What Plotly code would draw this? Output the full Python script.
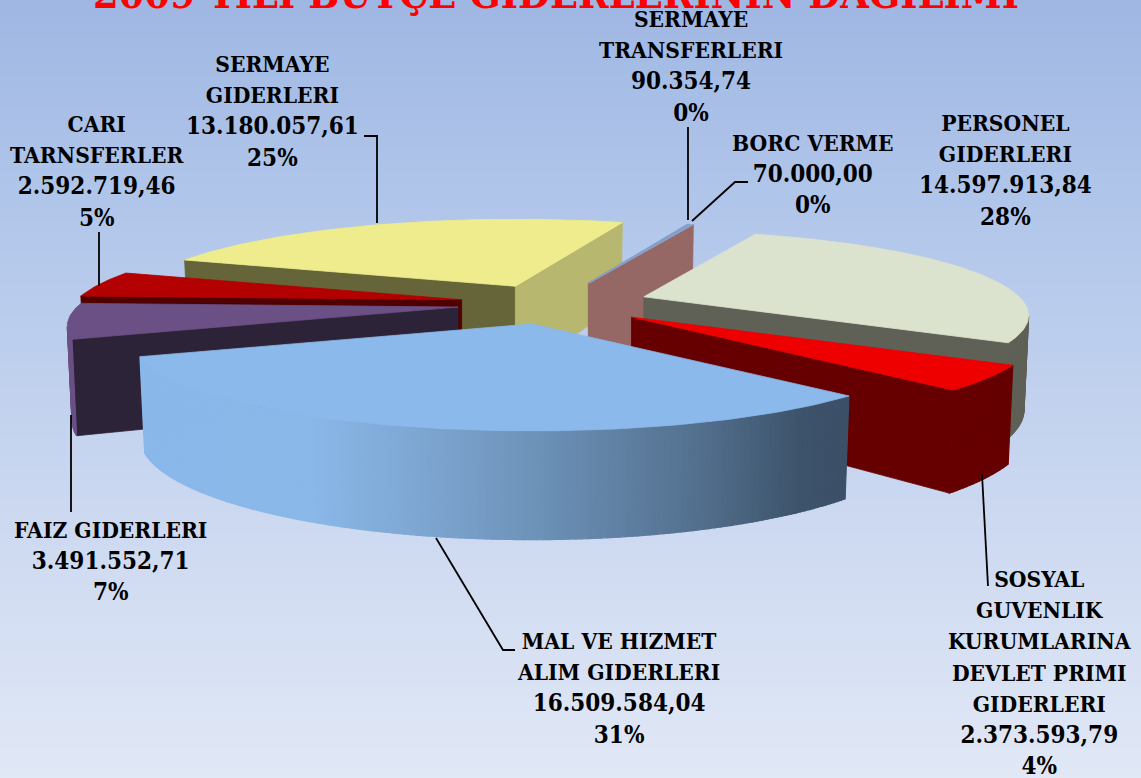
import numpy as np
import plotly.graph_objects as go

# ---- data ----
category_lines = [
    ["PERSONEL", "GIDERLERI"],
    ["SOSYAL", "GUVENLIK", "KURUMLARINA", "DEVLET PRIMI", "GIDERLERI"],
    ["MAL VE HIZMET", "ALIM GIDERLERI"],
    ["FAIZ GIDERLERI"],
    ["CARI", "TARNSFERLER"],
    ["SERMAYE", "GIDERLERI"],
    ["SERMAYE", "TRANSFERLERI"],
    ["BORC VERME"],
]
values = [14597913.84, 2373593.79, 16509584.04, 3491552.71, 2592719.46, 13180057.61, 90354.74, 70000.00]
title_text = "2009 YILI BÜTÇE GİDERLERİNİN DAĞILIMI"

# ---- styles ----
top_colors = ["#dbe2cd", "#ee0000", "#8bb9ec", "#6b5086", "#b30000", "#eeec8c", "#7fa0cc", "#8aa6d0"]
start_wall = ["#5f6056", "#660000", "#3e546c", "#2d2338", "#500000", "#666539", "#956866", "#956866"]
end_wall = ["#5f6056", "#660000", "#8bb9ec", "#2d2338", "#800000", "#b8b76f", "#956866", "#956866"]
outer_wall = ["#5f6056", "#660000", None, "#6b5086", "#800000", "#b8b76f", "#956866", "#956866"]
explode = [0.25, 0.26, 0.25, 0.25, 0.242, 0.232, 0.265, 0.265]
radius_scale = [0.975, 1.02, 1.005, 0.99, 1.0, 0.985, 0.91, 0.91]
mal_stops_x = [138, 310, 400, 540, 700, 800, 850]
mal_stops_rgb = [(139, 185, 236), (138, 184, 232), (128, 170, 214), (109, 146, 184), (83, 112, 142), (62, 84, 108), (60, 80, 104)]
label_centers = [(1005, 170), (1040, 673), (618, 688), (110, 561), (97, 171), (272, 111), (691, 66), (813, 174)]
leaders = [
    [(364, 136), (377, 136), (377, 223)],
    [(99, 232), (99, 286)],
    [(688, 127), (688, 220)],
    [(748, 182), (735, 182), (692, 221)],
    [(71, 415), (71, 512)],
    [(436, 538), (503, 650), (515, 650)],
    [(982, 474), (988, 586)],
]
draw_order = [5, 6, 7, 0, 1, 4, 3, 2]
FONT = "DejaVu Serif Condensed"

# ---- pie geometry: exploded perspective pie, angles clockwise from north ----
CX, CY, RX, RY, PERSP, START = 553.0, 303.7, 385.0, 83.0, 0.22, 21.0

total = sum(values)
sweeps = [v / total * 360 for v in values]
starts = [START + sum(sweeps[:i]) for i in range(len(values))]


def persp(t):
    return 1 / (1 + PERSP * np.cos(np.radians(t)))


def apex(i):
    m = np.radians(starts[i] + sweeps[i] / 2)
    return CX + explode[i] * RX * np.sin(m), CY - explode[i] * RY * np.cos(m)


def rim(i, t):
    ax, ay = apex(i)
    s = persp(t) * radius_scale[i]
    r = np.radians(t)
    return ax + RX * np.sin(r) * s, ay - RY * np.cos(r) * s


def drop(i, t):
    ax, _ = apex(i)
    x, y = rim(i, t)
    return ax + (x - ax) * 0.988, y + 91 + 63 * (persp(t) - 1)


def interp_color(x):
    return "rgb(%d,%d,%d)" % tuple(np.interp(x, mal_stops_x, [c[k] for c in mal_stops_rgb]) for k in range(3))


def poly(xs, ys, color, w=0.8):
    return go.Scatter(x=list(xs) + [xs[0]], y=list(ys) + [ys[0]], mode="lines", fill="toself",
                      fillcolor=color, line=dict(color=color, width=w), hoverinfo="skip", showlegend=False)


fig = go.Figure()

# page background gradient
bg_y = np.linspace(0, 778, 120)
fig.add_trace(go.Heatmap(x=[0, 1141], y=bg_y, z=[[v, v] for v in bg_y], showscale=False, hoverinfo="skip", zmin=0, zmax=778,
                         colorscale=[[0, "#9fb7e3"], [0.27, "#b1c6ea"], [0.65, "#cbd8f0"], [1, "#e1e8f6"]]))

for i in draw_order:
    ts, te = starts[i], starts[i] + sweeps[i]
    ax, ay = apex(i)
    bx = ax
    by = ay + 91
    if np.sin(np.radians(ts)) < 0:
        px, py = rim(i, ts)
        qx, qy = drop(i, ts)
        fig.add_trace(poly([ax, px, qx, bx], [ay, py, qy, by], start_wall[i]))
    if np.sin(np.radians(te)) > 0:
        px, py = rim(i, te)
        qx, qy = drop(i, te)
        fig.add_trace(poly([ax, px, qx, bx], [ay, py, qy, by], end_wall[i]))
    # outer wall, only the part that faces the viewer
    n = max(2, int((te - ts) / 0.75) + 1)
    th = np.linspace(ts, te, n)
    for a, b in zip(th[:-1], th[1:]):
        if np.cos(np.radians((a + b) / 2)) >= -PERSP:
            continue
        x1, y1 = rim(i, a)
        x2, y2 = rim(i, b)
        x3, y3 = drop(i, b)
        x4, y4 = drop(i, a)
        col = outer_wall[i] or interp_color((x1 + x2) / 2)
        fig.add_trace(poly([x1, x2, x3, x4], [y1, y2, y3, y4], col, 1.2))
    # top face
    th = np.linspace(ts, te, max(2, int(te - ts) + 2))
    pts = [rim(i, t) for t in th]
    fig.add_trace(poly([ax] + [p[0] for p in pts], [ay] + [p[1] for p in pts], top_colors[i]))

# leader lines
for pts in leaders:
    fig.add_trace(go.Scatter(x=[p[0] for p in pts], y=[p[1] for p in pts], mode="lines",
                             line=dict(color="#000000", width=1.8), hoverinfo="skip", showlegend=False))

# data labels
for lines, v, (lx, ly) in zip(category_lines, values, label_centers):
    num = f"{v:,.2f}".replace(",", "X").replace(".", ",").replace("X", ".")
    pct = f"{round(v / total * 100)}%"
    words = ['<span style="font-size:22.6px">%s</span>' % w for w in lines]
    fig.add_annotation(x=lx, y=ly, xref="x", yref="y", text="<b>" + "<br>".join(words + [num, pct]) + "</b>", showarrow=False,
                       align="center", xanchor="center", yanchor="middle",
                       font=dict(family=FONT, size=24, color="#000000"))

fig.update_layout(
    width=1141, height=778, margin=dict(l=0, r=0, t=0, b=0), paper_bgcolor="#c8d6ef", plot_bgcolor="rgba(0,0,0,0)",
    showlegend=False,
    title=dict(text="<b>%s</b>" % title_text, x=556 / 1141, xanchor="center", y=1 - 8 / 778, yanchor="bottom",
               font=dict(family=FONT, size=41, color="#ff0000")),
    font=dict(family=FONT),
    xaxis=dict(range=[0, 1141], visible=False, fixedrange=True),
    yaxis=dict(range=[778, 0], visible=False, fixedrange=True),
)

fig.write_html("out.html", config={"displayModeBar": False},
               post_script="document.body.style.margin='0';document.body.style.overflow='hidden';")
